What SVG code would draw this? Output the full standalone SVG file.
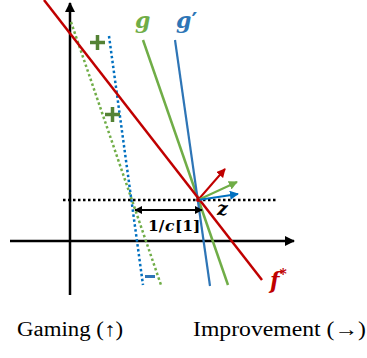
<svg xmlns="http://www.w3.org/2000/svg" width="367" height="358" viewBox="0 0 367 358">
<style>
.axis{stroke:#000;stroke-width:2.5;fill:none}
.dot{stroke-width:2.5;fill:none;stroke-dasharray:2.5 2.5}
.math{font-family:"DejaVu Serif","Liberation Serif",serif;font-weight:bold;font-style:italic}
.cl{font-family:"DejaVu Serif","Liberation Serif",serif;font-weight:bold;font-size:15.5px;fill:#000}
.lbl{font-family:"Liberation Serif","DejaVu Serif",serif;font-size:20px;fill:#000}
</style>
<defs>
<marker id="ah" viewBox="0 0 10 10" refX="9" refY="5" markerWidth="10" markerHeight="10" markerUnits="userSpaceOnUse" orient="auto"><path d="M0,0L10,5L0,10Z" fill="#000"/></marker>
<marker id="vr" viewBox="0 0 10 10" refX="9" refY="5" markerWidth="9" markerHeight="9" markerUnits="userSpaceOnUse" orient="auto"><path d="M0,0L10,5L0,10Z" fill="#C00000"/></marker>
<marker id="vg" viewBox="0 0 10 10" refX="9" refY="5" markerWidth="9" markerHeight="9" markerUnits="userSpaceOnUse" orient="auto"><path d="M0,0L10,5L0,10Z" fill="#70AD47"/></marker>
<marker id="vb" viewBox="0 0 10 10" refX="9" refY="5" markerWidth="9" markerHeight="9" markerUnits="userSpaceOnUse" orient="auto"><path d="M0,0L10,5L0,10Z" fill="#0070C0"/></marker>
<marker id="da" viewBox="0 0 10 10" refX="9" refY="5" markerWidth="8" markerHeight="8" markerUnits="userSpaceOnUse" orient="auto-start-reverse"><path d="M0,0L10,5L0,10Z" fill="#000"/></marker>
</defs>
<g id="connectors">
<line id="y-axis" class="axis" x1="70" y1="295" x2="70" y2="3" marker-end="url(#ah)"/>
<line id="x-axis" class="axis" x1="10" y1="241" x2="294" y2="241" marker-end="url(#ah)"/>
<line id="dotted-green" class="dot" stroke="#70AD47" x1="71" y1="22" x2="161" y2="285"/>
<line id="dotted-blue" class="dot" stroke="#0070C0" x1="109" y1="36" x2="143" y2="285"/>
<line id="h-dotted" class="dot" stroke="#000" x1="63" y1="200" x2="278" y2="200"/>
<line id="g-line" stroke="#70AD47" stroke-width="2.5" x1="143" y1="40" x2="228" y2="285"/>
<line id="gp-line" stroke="#2E75B6" stroke-width="2.2" x1="175" y1="40" x2="210" y2="286"/>
<line id="f-line" stroke="#C00000" stroke-width="2.5" x1="44" y1="0" x2="262" y2="280"/>
<line id="vec-red" stroke="#C00000" stroke-width="2" x1="198" y1="200" x2="225" y2="169" marker-end="url(#vr)"/>
<line id="vec-green" stroke="#70AD47" stroke-width="2" x1="198" y1="200" x2="237" y2="182" marker-end="url(#vg)"/>
<line id="vec-blue" stroke="#0070C0" stroke-width="2" x1="198" y1="200" x2="238" y2="194" marker-end="url(#vb)"/>
<line id="dist" stroke="#000" stroke-width="2" x1="135" y1="210" x2="202" y2="210" marker-start="url(#da)" marker-end="url(#da)"/>
<circle cx="198" cy="200" r="2" fill="#C00000"/>
</g>
<g id="plus1"><path d="M90,42.5h15M97.5,35v15" stroke="#548235" stroke-width="3.5"/></g>
<g id="plus2"><path d="M105,114.5h15M112.5,107v15" stroke="#548235" stroke-width="3.5"/></g>
<g id="minus"><rect x="145" y="275" width="10" height="3" fill="#2E75B6"/></g>
<g id="label-g"><text class="math" x="135" y="28" font-size="22" fill="#70AD47">g</text></g>
<g id="label-gp"><text class="math" x="176" y="28" font-size="22" fill="#2E75B6">g<tspan font-style="normal">′</tspan></text></g>
<g id="label-f"><text class="math" x="270" y="288" font-size="22" fill="#C00000">f<tspan font-size="14" dy="-9" font-style="normal">*</tspan></text></g>
<g id="label-z"><text class="math" x="217" y="215" font-size="19" fill="#000">z</text></g>
<g id="label-c">
<text class="cl" x="148" y="231">1/</text>
<text class="cl" x="165" y="231" font-style="italic">c</text>
<text class="cl" x="175" y="231">[1]</text>
</g>
<g id="label-gaming"><text class="lbl" x="17" y="336" textLength="106" lengthAdjust="spacingAndGlyphs">Gaming (↑)</text></g>
<g id="label-improvement"><text class="lbl" x="193" y="336" textLength="173" lengthAdjust="spacingAndGlyphs">Improvement (→)</text></g>
</svg>
